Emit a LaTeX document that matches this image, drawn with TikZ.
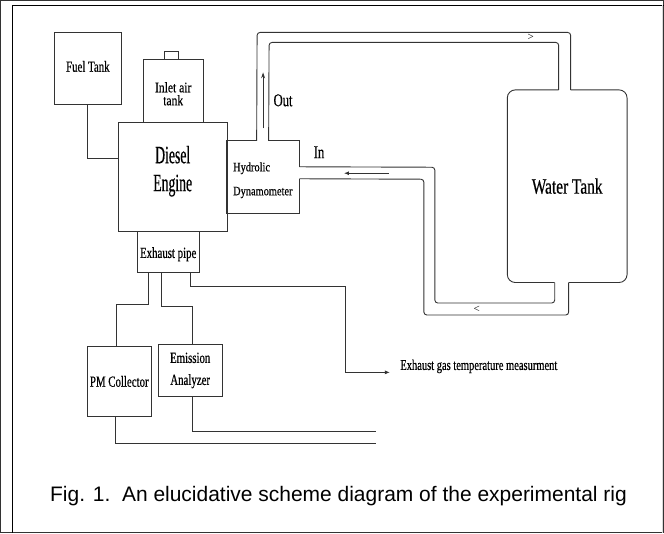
\documentclass[tikz,border=0pt]{standalone}
\usepackage{fontspec}
\setmainfont{Liberation Serif}
\newfontfamily\narrowfont[FakeStretch=0.7,FakeBold=0.5]{Liberation Serif}
\newfontfamily\tightfont[FakeStretch=0.55,FakeBold=0.4]{Liberation Serif}
\newfontfamily\looserfont[FakeStretch=0.8,FakeBold=0.5]{Liberation Serif}
\newfontfamily\capfont{Liberation Sans}
\usetikzlibrary{arrows.meta}

\begin{document}
\begin{tikzpicture}[
            x=1pt, y=-1pt,
            line width=0.9pt,
            every path/.style={draw=black!80},
            box/.style={
                rectangle,
                draw=black!80,
                inner sep=0pt,
                align=center,
                font=\narrowfont\fontsize{15.5}{22}\selectfont
            },
            pipe/.style={rounded corners=3pt},
            flow/.style={-{Latex[length=5pt,width=4pt]}}
        ]
        \useasboundingbox (0,0) rectangle (664,533);

        % Marco
        \draw[line width=1.5pt, draw=black] (12,533) -- (12,5) -- (664,5);
        \draw[draw=black!15] (663,5) -- (663,533);

        % Cajas
        \node[box, minimum width=67, minimum height=72]  (fuel)   at (87.5,68)   {\raisebox{4pt}{Fuel Tank}};
        \node[box, minimum width=60, minimum height=63,
              font=\looserfont\fontsize{14.5}{13}\selectfont]  (inlet)  at (173,90.5)  {\rule{0pt}{16pt}Inlet air\\tank};
        \node[box, minimum width=14, minimum height=8]   (cap)    at (171,55)    {};
        \node[box, minimum width=109, minimum height=109] (engine) at (172.5,176.5) {};
        \node[align=center, inner sep=0pt,
              font=\tightfont\fontsize{25}{28}\selectfont]   (engtext) at (172.5,171) {Diesel\\Engine};
        \node[inner sep=0pt, minimum width=72, minimum height=72] (dyn) at (263,177) {};
        \node[inner sep=0pt, text width=66, align=left,
              font=\looserfont\fontsize{13}{24}\selectfont] (dyntext) at (266,180) {Hydrolic\\Dynamometer};
        \node[box, minimum width=62, minimum height=41]  (exh)    at (168,251.5) {\\[-6pt]Exhaust pipe};
        \node[box, minimum width=64, minimum height=71]  (pm)     at (119,381.5) {PM Collector};
        \node[box, minimum width=64, minimum height=53]  (emis)   at (190,370.5) {Emission\\Analyzer};
        \node[inner sep=0pt, minimum width=119, minimum height=192,
              font=\narrowfont\fontsize{22}{24}\selectfont] (tank) at (567.5,186) {Water Tank};

        % Textos
        \node[font=\narrowfont\fontsize{18}{20}\selectfont] (out) at (283,100) {Out};
        \node[font=\narrowfont\fontsize{18}{20}\selectfont] (in)  at (319,152) {In};
        \node[anchor=base west, inner sep=0pt,
              font=\narrowfont\fontsize{15}{18}\selectfont] (temp) at (400,370) {Exhaust gas temperature measurment};
        \node[anchor=base, inner sep=0pt,
              font=\capfont\fontsize{21}{24}\selectfont] (caption) at (338.5,502)
              {Fig. 1.\ \ An elucidative scheme diagram of the experimental rig};

        % Puntos de las tuberías
        \coordinate (o1) at ([xshift=30]dyn.north west);
        \coordinate (o2) at ([xshift=42]dyn.north west);
        \coordinate (i1) at ([yshift=-26]dyn.north east);
        \coordinate (i2) at ([yshift=-38]dyn.north east);
        \coordinate (t1) at ([xshift=-8.5]tank.north);
        \coordinate (t2) at ([xshift=3.5]tank.north);
        \coordinate (b1) at ([xshift=-12.5]tank.south);
        \coordinate (b2) at ([xshift=1.5]tank.south);
        \coordinate (e1) at (376,432);
        \coordinate (e2) at (376,444);

        % Dinamómetro
        \draw (o1) -- (dyn.north west) -- (dyn.south west) -- (dyn.south east) -- (i2);
        \draw (o2) -- (dyn.north east) -- (i1);

        % Tanque de agua
        \draw[rounded corners=8pt] (t1) -- (tank.north west) -- (tank.south west) -- (b1);
        \draw[rounded corners=8pt] (t2) -- (tank.north east) -- (tank.south east) -- (b2);

        % Tuberías
        \draw[pipe] (o1) -- (257,32) -- (571,32) -- (t2);
        \draw[pipe] (o2) -- (269,42) -- (559,42) -- (t1);
        \draw[pipe] (i1) -- (435,167) -- (435,303) -- (555,303) -- (b1);
        \draw[pipe] (i2) -- (424,179) -- (424,315) -- (569,315) -- (b2);

        % Sentido del flujo
        \draw[-{Stealth[length=6pt,width=4pt]}] (263,128) -- (263,72);
        \draw[flow] (389,173) -- (344,173);
        \node[inner sep=0pt, font=\fontsize{11}{11}\selectfont] (fwd) at (531,37)  {\textgreater};
        \node[inner sep=0pt, font=\fontsize{11}{11}\selectfont] (bwd) at (477,309) {\textless};

        % Conexiones
        \draw (fuel.south) |- ([yshift=18.5]engine.west);
        \draw ([xshift=-20]exh.south) -- ++(0,32) -| ([xshift=-3]pm.north);
        \draw ([xshift=-7]exh.south) -- ++(0,34) -| ([xshift=2]emis.north);
        \draw[flow] ([xshift=22]exh.south) |- (345,286) |- ([xshift=-10,yshift=-6]temp.west);
        \draw ([xshift=2]emis.south) |- (e1);
        \draw ([xshift=-4]pm.south) |- (e2);

        \end{tikzpicture}
\end{document}
